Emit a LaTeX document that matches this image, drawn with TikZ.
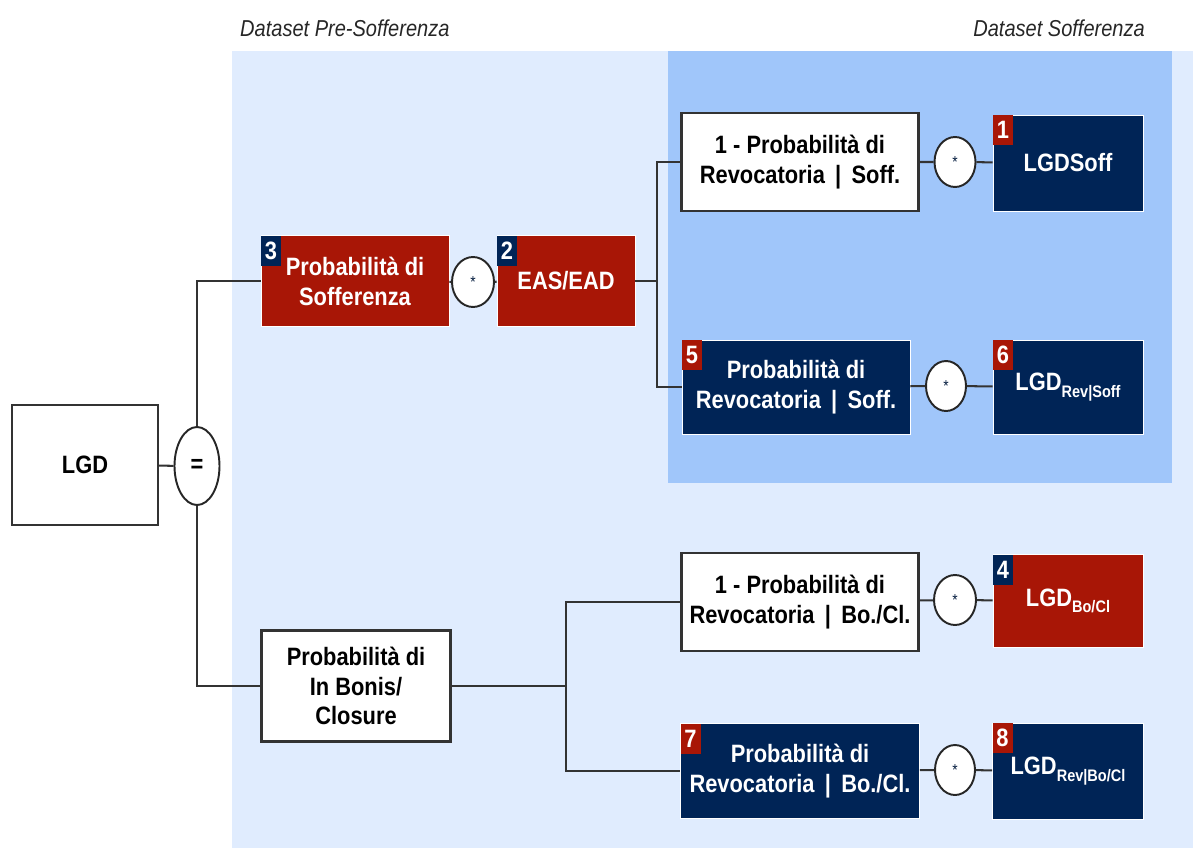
\documentclass[tikz,border=0pt]{standalone}
\usepackage{fontspec}
\setmainfont{Liberation Sans}[FakeStretch=0.87]
\usepackage{tikz}
\usetikzlibrary{shapes.geometric}

% colours of the scheme
\definecolor{sofred}{RGB}{168,22,6}
\definecolor{sofnavy}{RGB}{0,36,86}
\definecolor{bglight}{RGB}{224,236,254}
\definecolor{bgdark}{RGB}{160,198,250}

\newcommand{\boxfont}{\bfseries\fontsize{14.3}{17}\selectfont}
\newcommand{\lgdsub}[1]{LGD\raisebox{-0.5ex}{\fontsize{9.5}{10}\selectfont #1}}

\begin{document}
\begin{tikzpicture}[x=0.02cm, y=-0.02cm,
  box/.style={draw=black!80, fill=white, line width=1.3pt, align=center,
    font=\boxfont, inner sep=0pt},
  redbox/.style={box, draw=white, line width=0.4pt, fill=sofred, text=white},
  navybox/.style={box, draw=white, line width=0.4pt, fill=sofnavy, text=white},
  badge/.style={anchor=north west, inner sep=0pt, minimum width=20*\px,
    minimum height=30*\px, text=white, font=\boxfont},
  op/.style={ellipse, draw=black!85, fill=white, line width=1.1pt, inner sep=0pt},
  opstar/.style={op, font=\small, text=sofnavy!70!black},
  link/.style={draw=black!80, line width=1.15pt},
  title/.style={font=\itshape\fontsize{13.1}{15}\selectfont, text=black!85}]

% --- sizes ---
\def\px{0.02cm}  % one pixel of the original

\useasboundingbox (0,0) rectangle (1193,848);

% --- backgrounds ---
\fill[bglight] (232,51) rectangle (1193,848);
\fill[bgdark] (668,51) rectangle (1172,483);

\node[title, anchor=west] (pretitle) at (234,28) {Dataset Pre-Sofferenza};
\node[title, anchor=east] (softitle) at (1151,28) {Dataset Sofferenza};

% --- left part ---
\node[box, minimum width=146*\px, minimum height=120*\px] (lgd) at (85,465) {LGD};
\node[op, minimum width=45*\px, minimum height=78*\px, font=\boxfont] (eq) at (197,466) {=};

% --- Pre-Sofferenza branch ---
\node[redbox, minimum width=188*\px, minimum height=91*\px] (psoff) at (355,281)
  {Probabilità di\\Sofferenza};
\node[opstar, minimum width=42*\px, minimum height=50*\px] (st1) at (473,282) {*};
\node[redbox, minimum width=138*\px, minimum height=91*\px] (eas) at (566,281) {EAS/EAD};

% --- Sofferenza branch ---
\node[box, minimum width=237*\px, minimum height=98*\px] (rev1) at (800,162)
  {1 - Probabilità di\\Revocatoria \,|\, Soff.};
\node[opstar, minimum width=41*\px, minimum height=50*\px] (st2) at (955,162) {*};
\node[navybox, minimum width=150*\px, minimum height=96*\px] (lgdsoff) at (1068,163) {LGDSoff};

\node[navybox, minimum width=228*\px, minimum height=94*\px] (rev5) at (796,387)
  {Probabilità di\\Revocatoria \,|\, Soff.};
\node[opstar, minimum width=40*\px, minimum height=50*\px] (st3) at (946,386) {*};
\node[navybox, minimum width=150*\px, minimum height=94*\px] (lgdrs) at (1068,387)
  {\lgdsub{Rev|Soff}};

% --- In Bonis / Closure branch ---
\node[box, minimum width=189*\px, minimum height=111*\px] (bonis) at (356,686)
  {Probabilità di\\In Bonis/\\Closure};

\node[box, minimum width=237*\px, minimum height=98*\px] (rev4) at (800,602)
  {1 - Probabilità di\\Revocatoria \,|\, Bo./Cl.};
\node[opstar, minimum width=42*\px, minimum height=50*\px] (st4) at (955,600) {*};
\node[redbox, minimum width=150*\px, minimum height=93*\px] (lgdbc) at (1068,601)
  {\lgdsub{Bo/Cl}};

\node[navybox, minimum width=239*\px, minimum height=95*\px] (rev7) at (800,771)
  {Probabilità di\\Revocatoria \,|\, Bo./Cl.};
\node[opstar, minimum width=40*\px, minimum height=50*\px] (st5) at (955,770) {*};
\node[navybox, minimum width=151*\px, minimum height=96*\px] (lgdrbc) at (1068,771)
  {\lgdsub{Rev|Bo/Cl}};

% --- badges ---
\node[badge, fill=sofnavy] (b3) at (psoff.north west) {3};
\node[badge, fill=sofnavy] (b2) at (eas.north west) {2};
\node[badge, fill=sofred] (b1) at (lgdsoff.north west) {1};
\node[badge, fill=sofred] (b5) at (rev5.north west) {5};
\node[badge, fill=sofred] (b6) at (lgdrs.north west) {6};
\node[badge, fill=sofnavy] (b4) at (lgdbc.north west) {4};
\node[badge, fill=sofred] (b7) at (rev7.north west) {7};
\node[badge, fill=sofred] (b8) at (lgdrbc.north west) {8};

% --- connectors ---
\coordinate (fork1) at (657,281);
\coordinate (fork2) at (566,686);

\draw[link] (lgd) -- (eq);
\draw[link] (eq.north) |- (psoff.west);
\draw[link] (eq.south) |- (bonis.west);
\draw[link] (psoff) -- (st1) -- (eas);
\draw[link] (eas) -- (fork1);
\draw[link] (rev1.west) -| (fork1) |- (rev5.west);
\draw[link] (rev1) -- (st2) -- (lgdsoff);
\draw[link] (rev5) -- (st3) -- (lgdrs);
\draw[link] (bonis) -- (fork2);
\draw[link] (rev4.west) -| (fork2) |- (rev7.west);
\draw[link] (rev4) -- (st4) -- (lgdbc);
\draw[link] (rev7) -- (st5) -- (lgdrbc);

\end{tikzpicture}
\end{document}
